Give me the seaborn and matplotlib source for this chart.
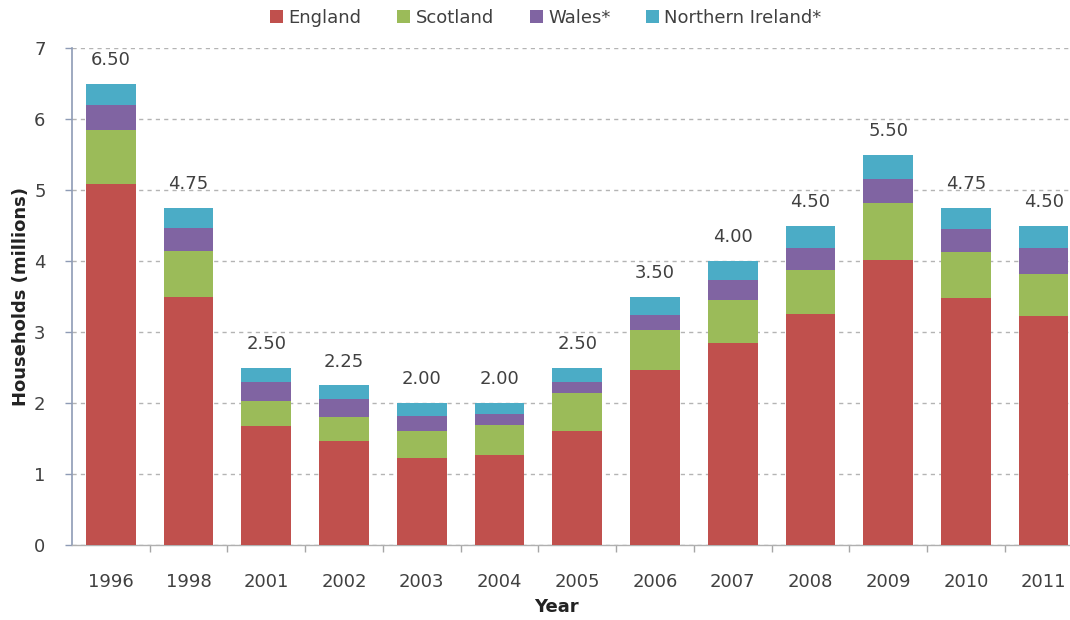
import matplotlib
matplotlib.use("Agg")
import matplotlib.pyplot as plt
from matplotlib.patches import Patch
import seaborn as sns
import numpy as np
import pandas as pd

years = ["1996", "1998", "2001", "2002", "2003", "2004", "2005",
         "2006", "2007", "2008", "2009", "2010", "2011"]
england = [5.08, 3.49, 1.67, 1.46, 1.23, 1.27, 1.60, 2.46, 2.84, 3.26, 4.02, 3.48, 3.22]
scotland = [0.77, 0.65, 0.36, 0.34, 0.38, 0.42, 0.54, 0.57, 0.61, 0.61, 0.79, 0.65, 0.59]
wales = [0.35, 0.33, 0.26, 0.25, 0.20, 0.16, 0.16, 0.21, 0.28, 0.32, 0.35, 0.32, 0.38]
n_ireland = [0.30, 0.28, 0.21, 0.20, 0.19, 0.15, 0.20, 0.26, 0.27, 0.31, 0.34, 0.30, 0.31]
total_labels = ["6.50", "4.75", "2.50", "2.25", "2.00", "2.00", "2.50",
                "3.50", "4.00", "4.50", "5.50", "4.75", "4.50"]
series_names = ["England", "Scotland", "Wales*", "Northern Ireland*"]
colors = ["#C0504D", "#9BBB59", "#8064A2", "#4BACC6"]

sns.set_theme(style="white")
plt.rcParams["font.family"] = ["DejaVu Sans"]

df = pd.DataFrame({"Year": years, "England": england, "Scotland": scotland,
                   "Wales*": wales, "Northern Ireland*": n_ireland})
cum = df[series_names].cumsum(axis=1)

fig = plt.figure(figsize=(10.70, 6.20), dpi=100)
ax = fig.add_axes([72 / 1070, 1 - 545 / 620, (1070 - 72) / 1070, (545 - 48) / 620])

# draw cumulative layers from top down so each visible band is one series
for name, col in reversed(list(zip(series_names, colors))):
    sns.barplot(x=df["Year"], y=cum[name], order=years, color=col,
                width=0.64, saturation=1, ax=ax, linewidth=0, zorder=3)

totals = cum["Northern Ireland*"].values
for i, lab in enumerate(total_labels):
    ax.annotate(lab, xy=(i, totals[i]), xytext=(0, 17), textcoords="offset points",
                ha="center", va="center", fontsize=13, color="#404040", zorder=5)

ax.set_ylim(0, 7)
ax.set_xlim(-0.5, 12.34)
ax.set_yticks(range(0, 8))
ax.yaxis.grid(True, linestyle=(0, (3, 3)), color="#B4B4B4", linewidth=1, zorder=0)
ax.xaxis.grid(False)
ax.set_axisbelow(True)

ax.tick_params(axis="y", which="major", left=True, length=5, width=1, color="#8E9BB5",
               labelsize=13, labelcolor="#404040", pad=14)
ax.tick_params(axis="x", which="major", bottom=False, length=0,
               labelsize=13, labelcolor="#404040", pad=20)
ax.set_xticks(np.arange(0.5, 12.5, 1), minor=True)
ax.tick_params(axis="x", which="minor", bottom=True, length=5, width=1, color="#A6A6A6")

for s in ["top", "right"]:
    ax.spines[s].set_visible(False)
ax.spines["left"].set_color("#8E9BB5")
ax.spines["left"].set_linewidth(1.2)
ax.spines["bottom"].set_color("#B0B0B0")
ax.spines["bottom"].set_linewidth(1)

ax.set_xlabel("")
ax.set_ylabel("Households (millions)", fontsize=13, fontweight="bold", color="#222222",
              labelpad=3)
fig.text(556 / 1070, 1 - 607 / 620, "Year", ha="center", va="center",
         fontsize=13, fontweight="bold", color="#222222")

handles = [Patch(facecolor=c, edgecolor="none", label=n) for n, c in zip(series_names, colors)]
fig.legend(handles=handles, loc="center", bbox_to_anchor=(546 / 1070, 1 - 18 / 620),
           ncol=4, frameon=False, fontsize=13, handlelength=0.7, handleheight=0.7,
           handletextpad=0.3, columnspacing=2.0, labelcolor="#404040")

fig.savefig("out.png", dpi=100)
